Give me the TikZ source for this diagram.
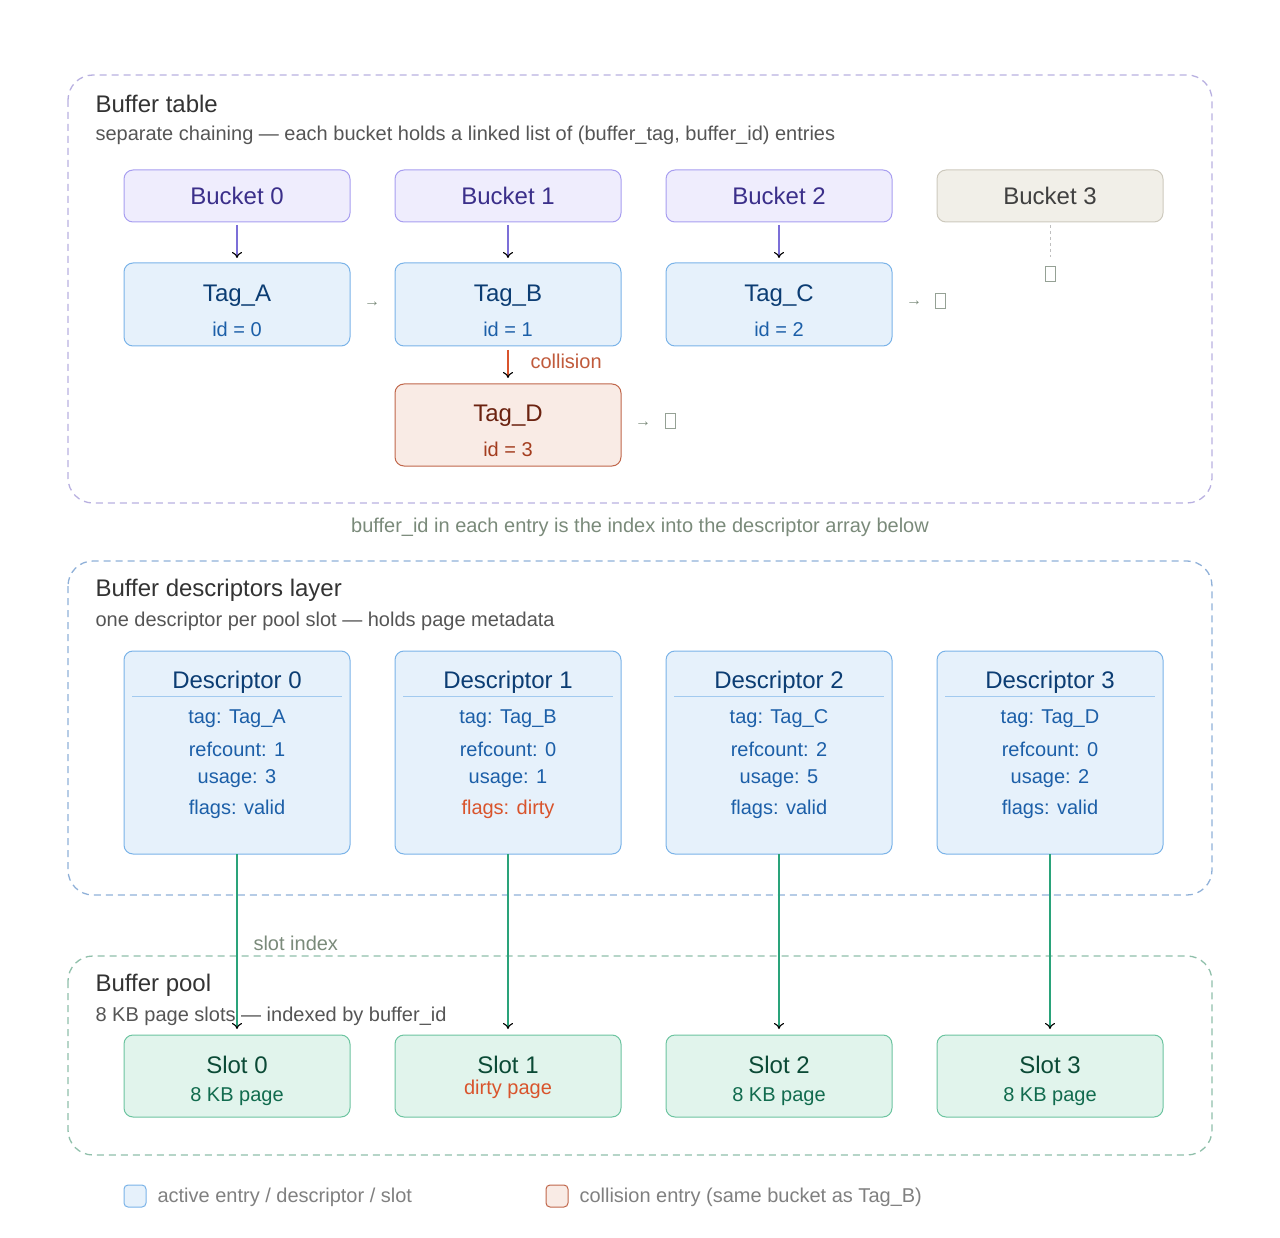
\documentclass[tikz,border=0pt]{standalone}
\usepackage{fontspec}
\setmainfont{Liberation Sans}
\usetikzlibrary{arrows.meta}
\definecolor{lavL}{HTML}{B8B0E0}\definecolor{bluL}{HTML}{8FB0D8}\definecolor{grnL}{HTML}{8FBFAA}
\definecolor{bkF}{HTML}{EFEDFD}\definecolor{bkD}{HTML}{A89EF0}\definecolor{bkT}{HTML}{3B2F8A}
\definecolor{b3F}{HTML}{F1EFE8}\definecolor{b3D}{HTML}{CDC9BD}
\definecolor{tgF}{HTML}{E6F1FB}\definecolor{tgD}{HTML}{7AB3E8}\definecolor{tgT}{HTML}{0C3D73}\definecolor{tgI}{HTML}{1C5FA8}
\definecolor{coF}{HTML}{F9EBE5}\definecolor{coD}{HTML}{C0664A}\definecolor{coT}{HTML}{6B2210}\definecolor{coI}{HTML}{A33C1E}
\definecolor{slF}{HTML}{E1F4EC}\definecolor{slD}{HTML}{6CC4A0}\definecolor{slT}{HTML}{0B4A36}\definecolor{slI}{HTML}{116B4E}
\definecolor{red1}{HTML}{D9542C}\definecolor{grn1}{HTML}{2AA37A}\definecolor{pur1}{HTML}{7C6FD8}
\definecolor{capC}{HTML}{7A8A7A}\definecolor{subC}{HTML}{555555}
\tikzset{
 panel/.style={rounded corners=25pt,dashed,dash pattern=on 7pt off 5pt,line width=1.3pt},
 box/.style={rounded corners=9pt,line width=1pt},
 ttl/.style={anchor=west,font=\fontsize{24}{28}\selectfont,text=black!80},
 sub/.style={anchor=west,font=\fontsize{20}{24}\selectfont,text=subC},
 big/.style={font=\fontsize{24}{28}\selectfont},
 mid/.style={font=\fontsize{20}{24}\selectfont},
 arr/.style={line width=1.1pt,-{To[black,length=6pt,width=10pt]}},
 tofu/.style={draw=capC!80,fill=white,minimum width=10pt,minimum height=15pt,inner sep=0,line width=.8pt},
 sm/.style={text=capC,font=\fontsize{16}{18}\selectfont}
}
\begin{document}
\begin{tikzpicture}[x=1pt,y=-1pt]
\useasboundingbox (0,0) rectangle (1280,1238);
% panels
\draw[panel,lavL] (68,75) rectangle (1212,503);
\draw[panel,bluL] (68,561) rectangle (1212,895);
\draw[panel,grnL] (68,956) rectangle (1212,1155);
\node[ttl] (t1) at (92,104) {Buffer table};
\node[sub] (s1) at (92,135) {separate chaining — each bucket holds a linked list of (buffer\_tag, buffer\_id) entries};
\node[ttl] (t2) at (92,590) {Buffer descriptors layer};
\node[sub] (s2) at (92,621) {one descriptor per pool slot — holds page metadata};
\node[ttl] (t3) at (92,985) {Buffer pool};
\node[sub] (s3) at (92,1016) {8 KB page slots — indexed by buffer\_id};
\node[sm,font=\fontsize{20}{24}\selectfont] (cap) at (640,527) {buffer\_id in each entry is the index into the descriptor array below};
\node[sm,font=\fontsize{20}{24}\selectfont,anchor=west] (si) at (250,943) {slot index};
% buckets
\foreach \i/\x in {0/124,1/395,2/666}{
 \draw[box,draw=bkD,fill=bkF] (\x,170) rectangle +(226,52);
 \node[big,text=bkT] (b\i) at (\x+113,196) {Bucket \i};
}
\draw[box,draw=b3D,fill=b3F] (937,170) rectangle +(226,52);
\node[big,text=black!75] (b3) at (1050,196) {Bucket 3};
% tags
\foreach \i/\x/\n in {0/124/A,1/395/B,2/666/C}{
 \draw[box,draw=tgD,fill=tgF] (\x,263) rectangle +(226,83);
 \node[big,text=tgT] (tg\i) at (\x+113,296) {Tag\_\n};
 \node[mid,text=tgI] (id\i) at (\x+113,329) {id = \i};
 \coordinate (bt\i) at (\x+113,225); \coordinate (tt\i) at (\x+113,258);
 \draw[arr,pur1] (bt\i) -- (tt\i);
}
\draw[box,draw=coD,fill=coF] (395,384) rectangle +(226,82);
\node[big,text=coT] (tgD) at (508,416) {Tag\_D};
\node[mid,text=coI] (idD) at (508,449) {id = 3};
\coordinate (c1) at (508,350); \coordinate (c2) at (508,378);
\draw[arr,red1] (c1) -- (c2);
\node[mid,text=red1!85!black!90,anchor=west] (col) at (527,361) {collision};
% list tails
\node[sm] (ar0) at (372,304) {→};
\node[sm] (ar2) at (914,303) {→};
\node[sm] (arD) at (643,424) {→};
\node[tofu] (n2) at (940,301) {};
\node[tofu] (nD) at (670,421) {};
\node[tofu] (n3) at (1050,274) {};
\coordinate (d3a) at (1050,225); \coordinate (d3b) at (1050,257);
\draw[gray!50,dashed,line width=1pt] (d3a) -- (d3b);
% descriptors
\foreach \i/\x/\t/\r/\u in {0/124/A/1/3,1/395/B/0/1,2/666/C/2/5,3/937/D/0/2}{
 \draw[box,draw=tgD,fill=tgF] (\x,651) rectangle +(226,203);
 \node[big,text=tgT] (d\i) at (\x+113,682) {Descriptor \i};
 \draw[tgD!70,line width=.8pt] (\x+8,696) -- (\x+218,696);
 \node[mid,text=tgI] (dt\i) at (\x+113,719) {tag: Tag\_\t};
 \node[mid,text=tgI] (dr\i) at (\x+113,749) {refcount: \r};
 \node[mid,text=tgI] (du\i) at (\x+113,779) {usage: \u};
}
\node[mid,text=tgI] (df0) at (237,809) {flags: valid};
\node[mid,text=red1] (df1) at (508,809) {flags: dirty};
\node[mid,text=tgI] (df2) at (779,809) {flags: valid};
\node[mid,text=tgI] (df3) at (1050,809) {flags: valid};
% slots
\foreach \i/\x in {0/124,1/395,2/666,3/937}{
 \draw[box,draw=slD,fill=slF] (\x,1035) rectangle +(226,82);
 \coordinate (ds\i) at (\x+113,854); \coordinate (se\i) at (\x+113,1029);
 \draw[arr,grn1] (ds\i) -- (se\i);
}
\node[big,text=slT] (sl0) at (237,1065) {Slot 0};
\node[mid,text=slI] (sp0) at (237,1097) {8 KB page};
\node[big,text=slT] (sl1) at (508,1065) {Slot 1};
\node[mid,text=red1] (sp1) at (508,1089) {dirty page};
\node[big,text=slT] (sl2) at (779,1065) {Slot 2};
\node[mid,text=slI] (sp2) at (779,1097) {8 KB page};
\node[big,text=slT] (sl3) at (1050,1065) {Slot 3};
\node[mid,text=slI] (sp3) at (1050,1097) {8 KB page};
% legend
\draw[rounded corners=4pt,draw=tgD,fill=tgF,line width=1pt] (124,1185) rectangle (146,1207);
\node[mid,text=gray,anchor=west] (l1) at (154,1197) {active entry / descriptor / slot};
\draw[rounded corners=4pt,draw=coD,fill=coF,line width=1pt] (546,1185) rectangle (568,1207);
\node[mid,text=gray,anchor=west] (l2) at (576,1197) {collision entry (same bucket as Tag\_B)};
\end{tikzpicture}
\end{document}
